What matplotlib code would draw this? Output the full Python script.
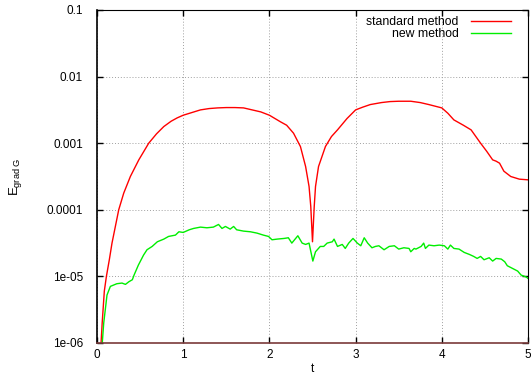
import numpy as np
import matplotlib
matplotlib.use("Agg")
import matplotlib.pyplot as plt
from matplotlib.ticker import NullLocator

# ---- data (log10 of E_grad G) ----
std_t = [0.03, 0.06, 0.085, 0.109, 0.143, 0.174, 0.213, 0.252, 0.31, 0.387,
         0.485, 0.60, 0.69, 0.775, 0.86, 0.93, 1.0, 1.1, 1.2, 1.3, 1.4, 1.5,
         1.6, 1.7, 1.8, 1.9, 2.0, 2.13, 2.2, 2.28, 2.36, 2.42, 2.46, 2.48, 2.5,
         2.52, 2.535, 2.57, 2.65, 2.72, 2.79, 2.9, 3.0, 3.08, 3.17, 3.3, 3.4,
         3.5, 3.64, 3.75, 3.85, 4.0, 4.07, 4.14, 4.25, 4.34, 4.45, 4.52, 4.59,
         4.63, 4.67, 4.72, 4.8, 4.9, 5.0]
std_log = [-6.4, -5.7, -5.22, -5.0, -4.75, -4.5, -4.25, -4.0, -3.75, -3.5,
           -3.25, -3.0, -2.86, -2.75, -2.67, -2.62, -2.58, -2.54, -2.5, -2.48,
           -2.47, -2.465, -2.465, -2.47, -2.5, -2.53, -2.58, -2.68, -2.73, -2.85,
           -3.05, -3.35, -3.65, -3.95, -4.48, -3.95, -3.65, -3.35, -3.05, -2.9,
           -2.8, -2.63, -2.5, -2.46, -2.42, -2.39, -2.375, -2.37, -2.37, -2.39,
           -2.42, -2.47, -2.55, -2.65, -2.73, -2.8, -3.0, -3.12, -3.25, -3.27,
           -3.3, -3.42, -3.5, -3.54, -3.55]

new_t = [0.05, 0.078, 0.116, 0.155, 0.23, 0.29, 0.33, 0.37, 0.41, 0.43, 0.48,
         0.54, 0.58, 0.64, 0.70, 0.775, 0.83, 0.91, 0.95, 1.0, 1.07, 1.12, 1.2,
         1.275, 1.35, 1.41, 1.45, 1.49, 1.545, 1.585, 1.62, 1.70, 1.78, 1.856,
         1.93, 1.99, 2.03, 2.09, 2.17, 2.22, 2.26, 2.33, 2.38, 2.42, 2.46,
         2.504, 2.535, 2.59, 2.63, 2.67, 2.73, 2.75, 2.79, 2.845, 2.88, 2.92,
         2.97, 3.02, 3.06, 3.10, 3.14, 3.19, 3.23, 3.27, 3.33, 3.39, 3.45, 3.50,
         3.56, 3.62, 3.64, 3.68, 3.70, 3.76, 3.79, 3.81, 3.85, 3.91, 3.97, 4.03,
         4.07, 4.10, 4.14, 4.20, 4.26, 4.32, 4.37, 4.41, 4.45, 4.49, 4.55, 4.59,
         4.63, 4.69, 4.73, 4.76, 4.82, 4.88, 4.92, 4.98, 5.0]
new_log = [-6.2, -5.7, -5.28, -5.15, -5.11, -5.10, -5.12, -5.08, -5.05, -4.98,
           -4.83, -4.68, -4.60, -4.55, -4.48, -4.44, -4.40, -4.38, -4.33, -4.34,
           -4.30, -4.28, -4.26, -4.27, -4.26, -4.22, -4.28, -4.25, -4.29, -4.25,
           -4.30, -4.32, -4.33, -4.35, -4.38, -4.40, -4.45, -4.44, -4.43, -4.42,
           -4.50, -4.39, -4.50, -4.52, -4.50, -4.77, -4.63, -4.55, -4.55, -4.50,
           -4.48, -4.44, -4.55, -4.52, -4.58, -4.50, -4.43, -4.50, -4.54, -4.42,
           -4.50, -4.57, -4.55, -4.54, -4.60, -4.55, -4.54, -4.59, -4.57, -4.58,
           -4.63, -4.58, -4.59, -4.55, -4.50, -4.58, -4.53, -4.54, -4.53, -4.54,
           -4.59, -4.53, -4.58, -4.59, -4.64, -4.67, -4.70, -4.73, -4.70, -4.75,
           -4.72, -4.77, -4.73, -4.74, -4.78, -4.84, -4.88, -4.92, -4.98, -5.01,
           -5.03]

series_labels = ["standard method", "new method"]
xticks = [0, 1, 2, 3, 4, 5]
xtick_labels = ["0", "1", "2", "3", "4", "5"]
yticks = [1e-6, 1e-5, 1e-4, 1e-3, 1e-2, 1e-1]
ytick_labels = ["1e-06", "1e-05", "0.0001", "0.001", "0.01", "0.1"]

plt.rcParams['font.family'] = ['Liberation Sans', 'DejaVu Sans']
plt.rcParams['mathtext.fontset'] = 'custom'
plt.rcParams['mathtext.rm'] = 'Liberation Sans'
plt.rcParams['mathtext.it'] = 'Liberation Sans'

W, H = 531, 376
fig = plt.figure(figsize=(W / 100, H / 100), dpi=100)
left, right, top, bottom = 97, 528, 10, 343
ax = fig.add_axes([left / W, (H - bottom) / H, (right - left) / W, (bottom - top) / H])

ax.plot(std_t, 10 ** np.array(std_log), color='#ff0000', lw=1.0, label=series_labels[0])
ax.plot(new_t, 10 ** np.array(new_log), color='#00ee00', lw=1.0, label=series_labels[1])

ax.set_yscale('log')
ax.set_xlim(0, 5)
ax.set_ylim(1e-6, 0.1)
ax.set_xticks(xticks, labels=xtick_labels)
ax.set_yticks(yticks, labels=ytick_labels)
ax.yaxis.set_minor_locator(NullLocator())

ax.tick_params(axis='both', which='major', direction='in', length=4, width=1,
               top=True, right=True, labelsize=8.5, colors='black')
ax.tick_params(axis='y', pad=10)
ax.tick_params(axis='x', pad=4)

ax.grid(True, which='major', color='#a0a0a0', linestyle=(0, (1, 2)), linewidth=0.7)

ax.spines['left'].set_linewidth(1.2)
ax.spines['left'].set_color('black')
ax.spines['bottom'].set_linewidth(1.2)
ax.spines['bottom'].set_color('#7a3a3a')
ax.spines['top'].set_linewidth(0.8)
ax.spines['right'].set_linewidth(0.8)

ax.set_xlabel('t', fontsize=8.5, labelpad=2)
ax.set_ylabel(r'$E_{\mathrm{grad\ G}}$', fontsize=9.5)
ax.yaxis.set_label_coords(-0.17, 0.5)

leg = ax.legend(loc='upper right', bbox_to_anchor=(1 - 17 / 431, 1 - 6 / 333),
                frameon=False, markerfirst=False, fontsize=8.8, handlelength=3.3,
                handletextpad=1.0, labelspacing=0.0, borderpad=0, borderaxespad=0)

fig.savefig('out.png', dpi=100)
